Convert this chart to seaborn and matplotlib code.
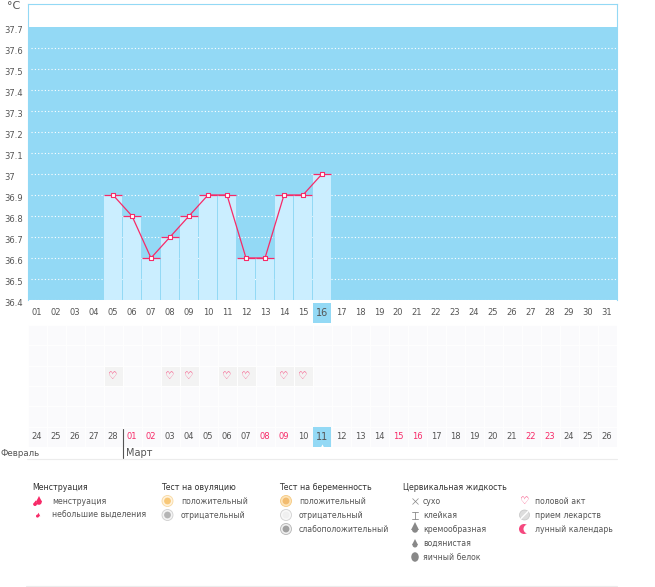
import matplotlib
matplotlib.use("Agg")
import matplotlib.pyplot as plt
from matplotlib.colors import ListedColormap
from matplotlib.patches import Rectangle, Ellipse, Circle
from matplotlib.transforms import ScaledTranslation
import numpy as np
import pandas as pd
import seaborn as sns

W, H = 655, 587

# data
days = ["01", "02", "03", "04", "05", "06", "07", "08", "09", "10", "11", "12", "13", "14", "15", "16",
        "17", "18", "19", "20", "21", "22", "23", "24", "25", "26", "27", "28", "29", "30", "31"]
temp_days = ["05", "06", "07", "08", "09", "10", "11", "12", "13", "14", "15", "16"]
temps = [36.9, 36.8, 36.6, 36.7, 36.8, 36.9, 36.9, 36.6, 36.6, 36.9, 36.9, 37.0]
y_ticks = [36.4, 36.5, 36.6, 36.7, 36.8, 36.9, 37.0, 37.1, 37.2, 37.3, 37.4, 37.5, 37.6, 37.7]
y_labels = ["36.4", "36.5", "36.6", "36.7", "36.8", "36.9", "37", "37.1", "37.2", "37.3", "37.4", "37.5", "37.6", "37.7"]
cycle_dates = ["24", "25", "26", "27", "28", "01", "02", "03", "04", "05", "06", "07", "08", "09", "10", "11",
               "12", "13", "14", "15", "16", "17", "18", "19", "20", "21", "22", "23", "24", "25", "26"]
red_dates = [5, 6, 12, 13, 19, 20, 26, 27]
heart_days = ["05", "08", "09", "11", "12", "14", "15"]
today = "16"

BLUE = "#93d9f5"
PALE = "#cbeeff"
PINK = "#f72a68"
TEXT = "#555555"
DARK = "#333333"

sns.set_theme(style="white")
plt.rcParams["font.family"] = ["DejaVu Sans"]
plt.rcParams["font.size"] = 6


def box(left, top, right, bottom):
    return [left / W, 1 - bottom / H, (right - left) / W, (bottom - top) / H]


fig = plt.figure(figsize=(W / 100, H / 100), dpi=100, facecolor="white")

# temperature chart
ax = fig.add_axes(box(27.5, 3.5, 616.5, 300))
df = pd.DataFrame({"day": temp_days, "temp": temps})
df["pos"] = [days.index(d) for d in temp_days]

ax.axhspan(36.4, 37.7, color=BLUE, lw=0, zorder=0.1)
ax.hlines(y_ticks[:-1], -0.32, 30.5, colors="white", linewidth=0.8, linestyles=(0, (1, 2)), zorder=0.5)
sns.barplot(data=df, x="day", y="temp", order=days, color=PALE, saturation=1, width=0.95, linewidth=0, ax=ax)
for bar in ax.patches[1:]:
    bar.set_zorder(1)
sns.lineplot(data=df, x="pos", y="temp", color=PINK, linewidth=0.9, sort=False, ax=ax, zorder=3)
ax.plot(df["pos"], df["temp"], linestyle="none", marker="_", ms=13.5, mew=0.9, color=PINK, zorder=3)
sns.scatterplot(data=df, x="pos", y="temp", marker="s", s=10, facecolor="white", edgecolor=PINK, linewidth=0.8,
                ax=ax, zorder=4)

ax.set_xlim(-0.5, 30.5)
ax.set_ylim(36.4, 36.4 + 296.5 / 210)
ax.set_xlabel("")
ax.set_ylabel("")
ax.set_yticks(y_ticks, y_labels)
ax.tick_params(axis="y", length=0, pad=17, labelsize=6, labelcolor=TEXT)
ax.tick_params(axis="x", length=0, pad=6, labelsize=6, labelcolor=TEXT)
for lab in ax.get_yticklabels():
    lab.set_ha("left")
    lab.set_transform(lab.get_transform() + ScaledTranslation(0, -2 / 72, fig.dpi_scale_trans))
today_col = days.index(today)
for lab in ax.get_xticklabels():
    if lab.get_text() == today:
        lab.set_fontsize(7)
ax.add_patch(Rectangle((today_col - 0.475, 36.4 - 23 / 210), 0.95, 20 / 210, facecolor=BLUE, edgecolor="none",
                       clip_on=False, zorder=0))
for s in ["left", "top", "right"]:
    ax.spines[s].set_color(BLUE)
    ax.spines[s].set_linewidth(0.8)
ax.spines["bottom"].set_visible(False)

# calendar grid, the last row holds the cycle dates
marks = np.zeros((6, len(days)))
notes = np.full((6, len(days)), "", dtype=object)
for d in heart_days:
    marks[2, days.index(d)] = 1
    notes[2, days.index(d)] = "\u2661"
notes[5] = cycle_dates

cal = fig.add_axes(box(27.5, 325, 616.5, 447))
sns.heatmap(marks, annot=notes, fmt="", cmap=ListedColormap(["#fafafc", "#f3f3f3"]), vmin=0, vmax=1,
            cbar=False, linewidths=0.7, linecolor="#fefefe", xticklabels=False, yticklabels=False, ax=cal)
cal.add_patch(Rectangle((today_col + 0.02, 5), 0.96, 0.98, facecolor=BLUE, edgecolor="none", zorder=2))
for t in cal.texts:
    t.set_zorder(4)
    if t.get_text() == "\u2661":
        t.set_color(PINK)
        t.set_fontsize(7.5)
        t.set_fontweight("bold")
    else:
        col = int(t.get_position()[0])
        t.set_color(PINK if col in red_dates else TEXT)
        t.set_fontsize(7 if col == today_col else 6)

# everything else is placed in pixels of the figure
ov = fig.add_axes([0, 0, 1, 1])
ov.set_xlim(0, W)
ov.set_ylim(H, 0)
ov.axis("off")
ov.patch.set_alpha(0)

ov.text(14, 6, "°C", color=TEXT, fontsize=8, ha="center", va="center")
ov.plot([322], [446], marker="^", ms=3, color="white", mew=0)
ov.plot([122.5, 122.5], [429, 458], color="#555555", lw=0.8)
ov.plot([27, 617], [458.5, 458.5], color="#ececec", lw=0.8)
ov.plot([26, 617], [586, 586], color="#ececec", lw=0.8)
ov.text(0.5, 453, "Февраль", color=TEXT, fontsize=6.2, ha="left", va="center")
ov.text(126, 453, "Март", color=TEXT, fontsize=7, ha="left", va="center")

titles = [(32, "Менструация"), (161, "Тест на овуляцию"), (279, "Тест на беременность"), (403, "Цервикальная жидкость")]
for x, s in titles:
    ov.text(x, 487, s, color=DARK, fontsize=5.7, va="center")

items = [(52, 501, "менструация"), (52, 515, "небольшие выделения"),
         (181, 501, "положительный"), (181, 515, "отрицательный"),
         (299, 501, "положительный"), (299, 515, "отрицательный"), (299, 529, "слабоположительный"),
         (423, 501, "сухо"), (423, 515, "клейкая"), (423, 529, "кремообразная"), (423, 543, "водянистая"),
         (423, 557, "яичный белок"),
         (535, 501, "половой акт"), (535, 515, "прием лекарств"), (535, 529, "лунный календарь")]
for x, y, s in items:
    ov.text(x, y, s, color=TEXT, fontsize=5.6, va="center")


def drop(x, y, r, color):
    ov.add_patch(Circle((x, y + r * 0.4), r, color=color, lw=0))
    ov.plot([x], [y - r * 0.8], marker="^", ms=r * 1.7, color=color, mew=0)


def ring(x, y, outer, mid, inner):
    ov.add_patch(Circle((x, y), 5.5, facecolor=outer, edgecolor=mid, lw=0.6))
    ov.add_patch(Circle((x, y), 3.4, facecolor=inner, edgecolor="none"))


drop(39, 501, 2.7, PINK)
drop(35, 503.5, 1.8, PINK)
drop(37.5, 515.5, 1.5, PINK)
ring(167.5, 501, "#fff3dd", "#f8d8a0", "#f8c878")
ring(167.5, 515, "#f4f4f4", "#cfcfcf", "#b5b5b5")
ring(286, 501, "#fde4b8", "#f5c880", "#f2bc70")
ring(286, 515, "#f8f8f8", "#d0d0d0", "#f0f0f0")
ring(286, 529, "#eeeeee", "#b5b5b5", "#a0a0a0")

ov.plot([415], [501], marker="x", ms=5, color="#888888", mew=0.5)
ov.plot([415, 415], [512, 519], color="#888888", lw=0.6)
ov.plot([412, 418], [512, 512], color="#888888", lw=0.6)
ov.plot([412, 418], [519, 519], color="#888888", lw=0.6)
drop(415, 528.5, 3, "#888888")
ov.add_patch(Circle((412.5, 527), 1.6, color="white", lw=0))
drop(415, 544, 2.5, "#888888")
ov.add_patch(Ellipse((415, 557), 7.5, 9.5, color="#888888", lw=0))

ov.text(524.5, 501, "\u2661", color=PINK, fontsize=7.5, fontweight="bold", ha="center", va="center")
ov.add_patch(Circle((524.5, 515), 5, facecolor="#dddddd", edgecolor="#c4c4c4", lw=0.5))
ov.plot([521, 528], [518.5, 511.5], color="white", lw=1)
ov.add_patch(Circle((524, 529), 5, color="#f5487f", lw=0))
ov.add_patch(Circle((528, 529), 4.5, color="white", lw=0))

fig.savefig("out.png", dpi=100)
